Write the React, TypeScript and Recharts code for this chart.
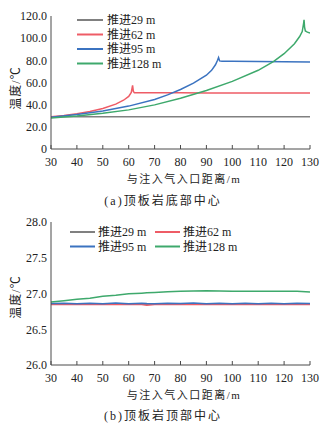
import React from 'react';
import { LineChart, Line, XAxis, YAxis } from 'recharts';

const seriesNames = ['推进29 m', '推进62 m', '推进95 m', '推进128 m'];
const seriesColors = ['#808080', '#ee5c66', '#3b73c0', '#3ea96c'];

const xTicks = [30, 40, 50, 60, 70, 80, 90, 100, 110, 120, 130];
const yTicksA = [0, 20, 40, 60, 80, 100, 120];
const yTicksB = [26, 26.5, 27, 27.5, 28];

// (a) 顶板岩底部中心
const distA29 = [30, 50, 70, 90, 110, 130];
const tempA29 = [29, 29, 29, 29, 29, 29];
const distA62 = [30, 35, 40, 45, 50, 55, 58, 60, 61, 61.5, 61.8, 62.2, 70, 80, 90, 100, 110, 120, 130];
const tempA62 = [29.1, 30.2, 31.8, 33.8, 36.5, 40.5, 44, 47.5, 51, 57.5, 52, 50.8, 50.7, 50.7, 50.6, 50.6, 50.6, 50.5, 50.5];
const distA95 = [30, 40, 50, 60, 70, 75, 80, 85, 90, 92, 93.5, 94.3, 94.7, 95.1, 96, 100, 110, 120, 130];
const tempA95 = [28.6, 31.2, 34.2, 38.7, 44.7, 48.8, 53.7, 59.5, 66.6, 71, 76, 80, 82.5, 79.5, 79.2, 79.2, 79, 78.8, 78.4];
const distA128 = [30, 40, 50, 60, 70, 80, 90, 100, 110, 116, 120, 124, 126, 127, 127.5, 127.7, 127.9, 128.2, 129, 130];
const tempA128 = [28, 29.8, 32.2, 35.3, 39.8, 45.8, 52.8, 61, 71, 79, 86, 95, 101.5, 106, 113, 116.5, 110, 106.5, 105.5, 104.5];

// (b) 顶板岩顶部中心
const distB = [30, 35, 40, 45, 50, 55, 60, 65, 67, 70, 75, 80, 85, 90, 95, 100, 105, 110, 115, 120, 125, 130];
const tempB29 = [26.85, 26.85, 26.85, 26.85, 26.85, 26.85, 26.85, 26.85, 26.85, 26.85, 26.85, 26.85, 26.85, 26.85, 26.85, 26.85, 26.85, 26.85, 26.85, 26.85, 26.85, 26.85];
const tempB62 = [26.845, 26.846, 26.845, 26.847, 26.845, 26.846, 26.845, 26.846, 26.835, 26.845, 26.846, 26.845, 26.846, 26.845, 26.846, 26.845, 26.846, 26.845, 26.846, 26.845, 26.846, 26.845];
const tempB95 = [26.86, 26.865, 26.858, 26.865, 26.858, 26.866, 26.858, 26.865, 26.86, 26.858, 26.865, 26.86, 26.866, 26.858, 26.864, 26.858, 26.865, 26.858, 26.865, 26.858, 26.864, 26.86];
const tempB128 = [26.88, 26.9, 26.92, 26.935, 26.96, 26.975, 26.995, 27.005, 27.01, 27.015, 27.025, 27.03, 27.035, 27.04, 27.035, 27.03, 27.032, 27.033, 27.033, 27.033, 27.03, 27.02];

const zip = (xs: number[], ys: number[]) => xs.map((x, i) => ({ x, y: ys[i] }));

const seriesA = [zip(distA29, tempA29), zip(distA62, tempA62), zip(distA95, tempA95), zip(distA128, tempA128)];
const seriesB = [zip(distB, tempB29), zip(distB, tempB62), zip(distB, tempB95), zip(distB, tempB128)];

const FONT = '"Liberation Serif", "Noto Sans CJK SC", serif';
const AXIS = '#4a4a4a';

const XTick = (props: any) => {
  const { x, y, payload } = props;
  return (
    <g>
      <line x1={x} x2={x} y1={y} y2={y - 4} stroke={AXIS} strokeWidth={1} />
      <text x={x} y={y + 13} textAnchor="middle" dominantBaseline="central" fontSize={12} fontFamily={FONT} fill="#222">
        {payload.value}
      </text>
    </g>
  );
};

const fmtA = (v: number) => (v === 0 ? '0' : v.toFixed(1));
const fmtB = (v: number) => v.toFixed(1);

const LegendA = () => (
  <svg width={140} height={70} style={{ position: 'absolute', left: 75, top: 14 }}>
    {seriesNames.map((n, i) => (
      <g key={n}>
        <line x1={2} x2={28} y1={6 + i * 14.5} y2={6 + i * 14.5} stroke={seriesColors[i]} strokeWidth={2} />
        <text x={32} y={6 + i * 14.5} dominantBaseline="central" fontSize={12} fontFamily={FONT} fill="#222">{n}</text>
      </g>
    ))}
  </svg>
);

const LegendB = () => (
  <svg width={200} height={40} style={{ position: 'absolute', left: 70, top: 226 }}>
    {seriesNames.map((n, i) => {
      const col = i % 2;
      const row = Math.floor(i / 2);
      const lx = col === 0 ? 0 : 85;
      const ly = 6 + row * 14.5;
      return (
        <g key={n}>
          <line x1={lx} x2={lx + 25} y1={ly} y2={ly} stroke={seriesColors[i]} strokeWidth={2} />
          <text x={lx + 28} y={ly} dominantBaseline="central" fontSize={12} fontFamily={FONT} fill="#222">{n}</text>
        </g>
      );
    })}
  </svg>
);

const textStyle: React.CSSProperties = {
  position: 'absolute',
  fontFamily: FONT,
  color: '#222',
  whiteSpace: 'nowrap',
};

export default function App() {
  return (
    <div style={{ position: 'absolute', left: 0, top: 0, width: 328, height: 427, background: '#fff' }}>
      <div style={{ position: 'absolute', left: 0, top: 0 }}>
        <LineChart width={328} height={210} margin={{ top: 16, right: 18, bottom: 41, left: 0 }}>
          <XAxis
            dataKey="x"
            type="number"
            domain={[30, 130]}
            ticks={xTicks}
            interval={0}
            allowDataOverflow
            stroke={AXIS}
            tickSize={0}
            tickMargin={0}
            tick={<XTick />}
            height={20}
          />
          <YAxis
            type="number"
            domain={[0, 120]}
            ticks={yTicksA}
            interval={0}
            width={51}
            tickLine={false}
            tickSize={0}
            tickMargin={4}
            stroke={AXIS}
            tickFormatter={fmtA}
            tick={{ fontSize: 12, fontFamily: FONT, fill: '#222' }}
          />
          {seriesA.map((d, i) => (
            <Line key={i} data={d} dataKey="y" name={seriesNames[i]} stroke={seriesColors[i]} strokeWidth={1.5} dot={false} isAnimationActive={false} type="linear" />
          ))}
        </LineChart>
      </div>
      <div style={{ position: 'absolute', left: 0, top: 210 }}>
        <LineChart width={328} height={217} margin={{ top: 12, right: 18, bottom: 42, left: 0 }}>
          <XAxis
            dataKey="x"
            type="number"
            domain={[30, 130]}
            ticks={xTicks}
            interval={0}
            allowDataOverflow
            stroke={AXIS}
            tickSize={0}
            tickMargin={0}
            tick={<XTick />}
            height={20}
          />
          <YAxis
            type="number"
            domain={[26, 28]}
            ticks={yTicksB}
            interval={0}
            width={51}
            tickLine={false}
            tickSize={0}
            tickMargin={4}
            stroke={AXIS}
            tickFormatter={fmtB}
            tick={{ fontSize: 12, fontFamily: FONT, fill: '#222' }}
          />
          {seriesB.map((d, i) => (
            <Line key={i} data={d} dataKey="y" name={seriesNames[i]} stroke={seriesColors[i]} strokeWidth={1.5} dot={false} isAnimationActive={false} type="linear" />
          ))}
        </LineChart>
      </div>

      <LegendA />
      <LegendB />

      <div style={{ ...textStyle, left: 15, top: 88, fontSize: 12, letterSpacing: 1, transform: 'translate(-50%, -50%) rotate(-90deg)' }}>温度/℃</div>
      <div style={{ ...textStyle, left: 15, top: 297, fontSize: 12, letterSpacing: 1, transform: 'translate(-50%, -50%) rotate(-90deg)' }}>温度/℃</div>

      <div style={{ ...textStyle, left: 184, top: 178, fontSize: 11, letterSpacing: 1.5, transform: 'translate(-50%, -50%)' }}>与注入气入口距离/m</div>
      <div style={{ ...textStyle, left: 184, top: 394, fontSize: 11, letterSpacing: 1.5, transform: 'translate(-50%, -50%)' }}>与注入气入口距离/m</div>

      <div style={{ ...textStyle, left: 163, top: 200, fontSize: 12, letterSpacing: 2, transform: 'translate(-50%, -50%)' }}>(a)顶板岩底部中心</div>
      <div style={{ ...textStyle, left: 163, top: 415, fontSize: 12, letterSpacing: 2, transform: 'translate(-50%, -50%)' }}>(b)顶板岩顶部中心</div>
    </div>
  );
}
